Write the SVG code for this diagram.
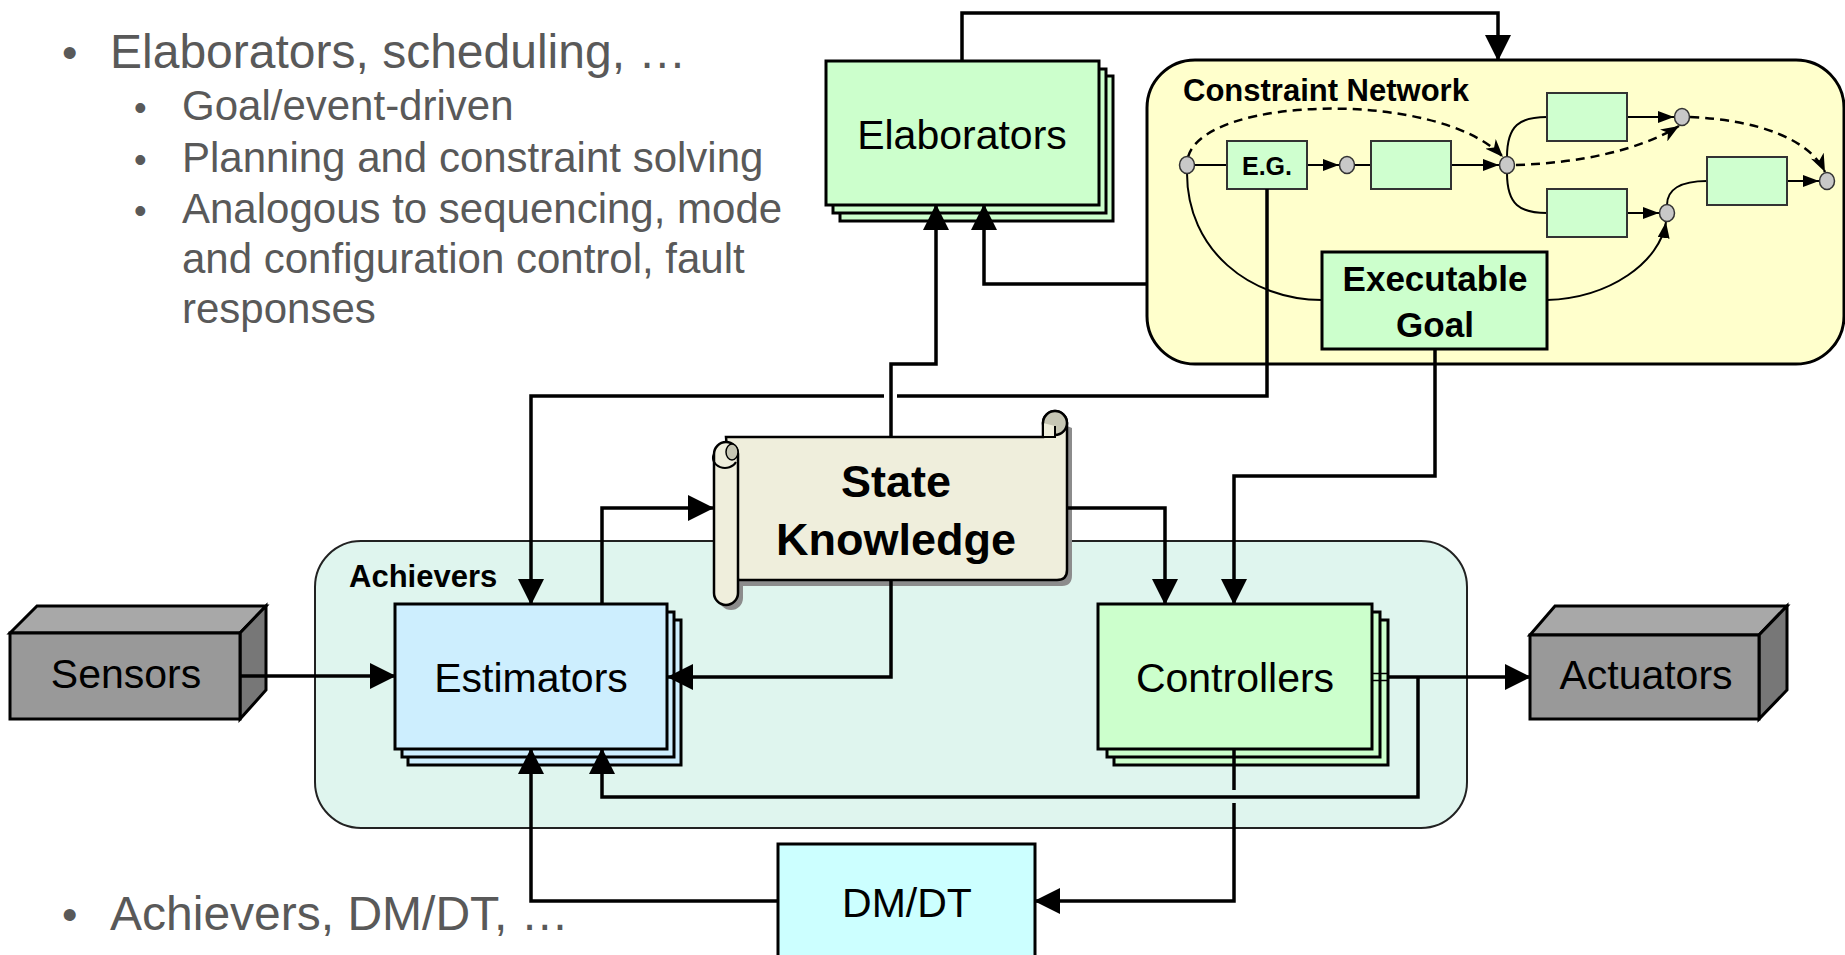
<svg xmlns="http://www.w3.org/2000/svg" width="1845" height="955" viewBox="0 0 1845 955">
<style>
.bt{font-family:"Liberation Sans",Arial,sans-serif;fill:#595959}
.lbl{font-family:"Liberation Sans",Arial,sans-serif;fill:#000;text-anchor:middle}
.bold{font-weight:bold}
.box{stroke:#000;stroke-width:3}
.g{fill:#ccffcc}
.b{fill:#cdeefe}
.cn{fill:none;stroke:#000;stroke-width:3.5}
.thin{fill:none;stroke:#000;stroke-width:2}
.dash{fill:none;stroke:#000;stroke-width:2.5;stroke-dasharray:9,6}
.nd{fill:#c8c8c8;stroke:#333;stroke-width:1.5}
.sb{fill:#cfffcf;stroke:#333;stroke-width:2}
</style>
<defs>
<marker id="ah" markerUnits="userSpaceOnUse" markerWidth="26" markerHeight="26" viewBox="0 0 26 26" refX="25" refY="13" orient="auto"><path d="M0,0 L26,13 L0,26 z" fill="#000"/></marker>
<marker id="sa" markerUnits="userSpaceOnUse" markerWidth="16" markerHeight="12" viewBox="0 0 16 12" refX="16" refY="6" orient="auto"><path d="M0,0 L16,6 L0,12 z" fill="#000"/></marker>
<marker id="da" markerUnits="userSpaceOnUse" markerWidth="18" markerHeight="14" viewBox="0 0 18 14" refX="18" refY="7" orient="auto"><path d="M0,0 L18,7 L0,14 L5,7 z" fill="#000"/></marker>
</defs>

<g id="bullets">
<text class="bt" x="62" y="68" font-size="44">•</text>
<text class="bt" x="110" y="68" font-size="48">Elaborators, scheduling, …</text>
<text class="bt" x="134" y="120" font-size="36">•</text>
<text class="bt" x="182" y="120" font-size="42">Goal/event-driven</text>
<text class="bt" x="134" y="172" font-size="36">•</text>
<text class="bt" x="182" y="172" font-size="42">Planning and constraint solving</text>
<text class="bt" x="134" y="223" font-size="36">•</text>
<text class="bt" x="182" y="223" font-size="42">Analogous to sequencing, mode</text>
<text class="bt" x="182" y="273" font-size="42">and configuration control, fault</text>
<text class="bt" x="182" y="323" font-size="42">responses</text>
<text class="bt" x="62" y="930" font-size="44">•</text>
<text class="bt" x="110" y="930" font-size="48">Achievers, DM/DT, …</text>
</g>

<g id="achievers">
<rect x="315" y="541" width="1152" height="287" rx="46" ry="46" fill="#dff5ee" stroke="#222" stroke-width="2"/>
<text class="lbl bold" x="349" y="587" font-size="31" style="text-anchor:start">Achievers</text>
</g>

<g id="constraint-network">
<rect x="1147" y="60" width="697" height="304" rx="48" ry="48" fill="#ffffcc" stroke="#000" stroke-width="3"/>
<text class="lbl bold" x="1183" y="101" font-size="31" style="text-anchor:start">Constraint Network</text>
<path class="dash" d="M1188,157 C1205,95 1440,90 1503,157" marker-end="url(#da)"/>
<path class="dash" d="M1516,165 C1580,163 1640,150 1679,126" marker-end="url(#da)"/>
<path class="dash" d="M1690,117 C1760,120 1810,140 1825,172" marker-end="url(#da)"/>
<path class="thin" d="M1187,173 C1187,250 1250,300 1322,300"/>
<path class="thin" d="M1547,300 C1610,298 1660,262 1666,222" marker-end="url(#sa)"/>
<path class="thin" d="M1195,165 H1227"/>
<path class="thin" d="M1307,165 H1339" marker-end="url(#sa)"/>
<path class="thin" d="M1355,165 H1371"/>
<path class="thin" d="M1451,165 H1499" marker-end="url(#sa)"/>
<path class="thin" d="M1507,157 C1507,125 1520,117 1547,117"/>
<path class="thin" d="M1507,173 C1507,205 1520,213 1547,213"/>
<path class="thin" d="M1627,117 H1674" marker-end="url(#sa)"/>
<path class="thin" d="M1627,213 H1659" marker-end="url(#sa)"/>
<path class="thin" d="M1667,205 C1667,190 1680,181 1707,181"/>
<path class="thin" d="M1787,181 H1819" marker-end="url(#sa)"/>
<rect class="sb" x="1227" y="141" width="80" height="48"/>
<text class="lbl bold" x="1267" y="175" font-size="25">E.G.</text>
<rect class="sb" x="1371" y="141" width="80" height="48"/>
<rect class="sb" x="1547" y="93" width="80" height="48"/>
<rect class="sb" x="1547" y="189" width="80" height="48"/>
<rect class="sb" x="1707" y="157" width="80" height="48"/>
<ellipse class="nd" cx="1187" cy="165" rx="7.5" ry="8.5"/>
<ellipse class="nd" cx="1347" cy="165" rx="7.5" ry="8.5"/>
<ellipse class="nd" cx="1507" cy="165" rx="7.5" ry="8.5"/>
<ellipse class="nd" cx="1682" cy="117" rx="7.5" ry="8.5"/>
<ellipse class="nd" cx="1667" cy="213" rx="7.5" ry="8.5"/>
<ellipse class="nd" cx="1827" cy="181" rx="7.5" ry="8.5"/>
</g>

<g id="executable-goal">
<rect class="box g" x="1322" y="252" width="225" height="97"/>
<text class="lbl bold" x="1435" y="291" font-size="35">Executable</text>
<text class="lbl bold" x="1435" y="337" font-size="35">Goal</text>
</g>

<g id="elaborators">
<rect class="box g" x="840" y="76" width="273" height="145"/>
<rect class="box g" x="833" y="69" width="273" height="144"/>
<rect class="box g" x="826" y="61" width="273" height="144"/>
<text class="lbl" x="962" y="149" font-size="41">Elaborators</text>
</g>

<g id="state-knowledge">
<g fill="#8c8c8c">
<path d="M731,442 H1060 L1060,428 A12,12 0 0 1 1072,428 V575 Q1072,586 1062,586 H743 Z"/>
<path d="M719,460 V598 A12,12 0 0 0 743,598 V460 Z"/>
</g>
<path d="M726,437 H1043 V423 A12,12 0 0 1 1067,423 V570 Q1067,580 1057,580 H738 Z" fill="#efeedc" stroke="#000" stroke-width="2.5"/>
<circle cx="1055" cy="423" r="12" fill="#c6c6b4" stroke="#000" stroke-width="2.5"/>
<path d="M1043,423 V437 H1055 V426" fill="#efeedc" stroke="#000" stroke-width="2"/>
<path d="M714,454 V593 A12,12 0 0 0 738,593 V454 A12,12 0 0 0 714,454 Z" fill="#efeedc" stroke="#000" stroke-width="2.5"/>
<ellipse cx="732" cy="452" rx="6" ry="8" fill="#c6c6b4" stroke="#000" stroke-width="1.5"/>
<path d="M714,454 A12,10 0 0 0 736,462" fill="none" stroke="#000" stroke-width="2"/>
<text class="lbl bold" x="896" y="497" font-size="45">State</text>
<text class="lbl bold" x="896" y="555" font-size="45">Knowledge</text>
</g>

<g id="estimators">
<rect class="box b" x="408" y="620" width="273" height="145"/>
<rect class="box b" x="402" y="612" width="272" height="145"/>
<rect class="box b" x="395" y="604" width="272" height="145"/>
<text class="lbl" x="531" y="692" font-size="41">Estimators</text>
</g>

<g id="controllers">
<rect class="box g" x="1114" y="620" width="274" height="145"/>
<rect class="box g" x="1107" y="612" width="273" height="145"/>
<rect class="box g" x="1098" y="604" width="274" height="145"/>
<text class="lbl" x="1235" y="692" font-size="41">Controllers</text>
</g>

<g id="sensors">
<path d="M10,633 L37,606 H266 L240,633 Z" fill="#a8a8a8" stroke="#000" stroke-width="3"/>
<path d="M240,633 L266,606 V690 L240,719 Z" fill="#777" stroke="#000" stroke-width="3"/>
<rect x="10" y="633" width="230" height="86" fill="#999" stroke="#000" stroke-width="3"/>
<text class="lbl" x="126" y="688" font-size="41">Sensors</text>
</g>

<g id="actuators">
<path d="M1530,635 L1555,606 H1787 L1759,635 Z" fill="#a8a8a8" stroke="#000" stroke-width="3"/>
<path d="M1759,635 L1787,606 V690 L1759,719 Z" fill="#777" stroke="#000" stroke-width="3"/>
<rect x="1530" y="635" width="229" height="84" fill="#999" stroke="#000" stroke-width="3"/>
<text class="lbl" x="1646" y="689" font-size="41">Actuators</text>
</g>

<g id="dmdt">
<rect x="778" y="844" width="257" height="130" fill="#ccffff" stroke="#000" stroke-width="3"/>
<text class="lbl" x="907" y="917" font-size="41">DM/DT</text>
</g>

<g id="connectors">
<path class="cn" d="M962,61 V13 H1498 V60" marker-end="url(#ah)"/>
<path class="cn" d="M891,437 V364 H936 V205" marker-end="url(#ah)"/>
<path class="cn" d="M1147,284 H984 V205" marker-end="url(#ah)"/>
<path class="cn" d="M1267,189 V396 H897"/>
<path class="cn" d="M884,396 H531 V604" marker-end="url(#ah)"/>
<path class="cn" d="M1435,349 V476 H1234 V604" marker-end="url(#ah)"/>
<path class="cn" d="M602,604 V508 H713" marker-end="url(#ah)"/>
<path class="cn" d="M1067,508 H1165 V604" marker-end="url(#ah)"/>
<path class="cn" d="M891,580 V677 H668" marker-end="url(#ah)"/>
<path class="cn" d="M240,676 H395" marker-end="url(#ah)"/>
<path class="cn" d="M1388,677 H1530" marker-end="url(#ah)"/>
<path d="M1372,673.5 H1388 M1372,680.5 H1388" fill="none" stroke="#000" stroke-width="1.5"/>
<path class="cn" d="M1418,677 V797 H602 V749" marker-end="url(#ah)"/>
<path class="cn" d="M1234,749 V790"/>
<path class="cn" d="M1234,803 V901 H1035" marker-end="url(#ah)"/>
<path class="cn" d="M778,901 H531 V749" marker-end="url(#ah)"/>
</g>
</svg>
